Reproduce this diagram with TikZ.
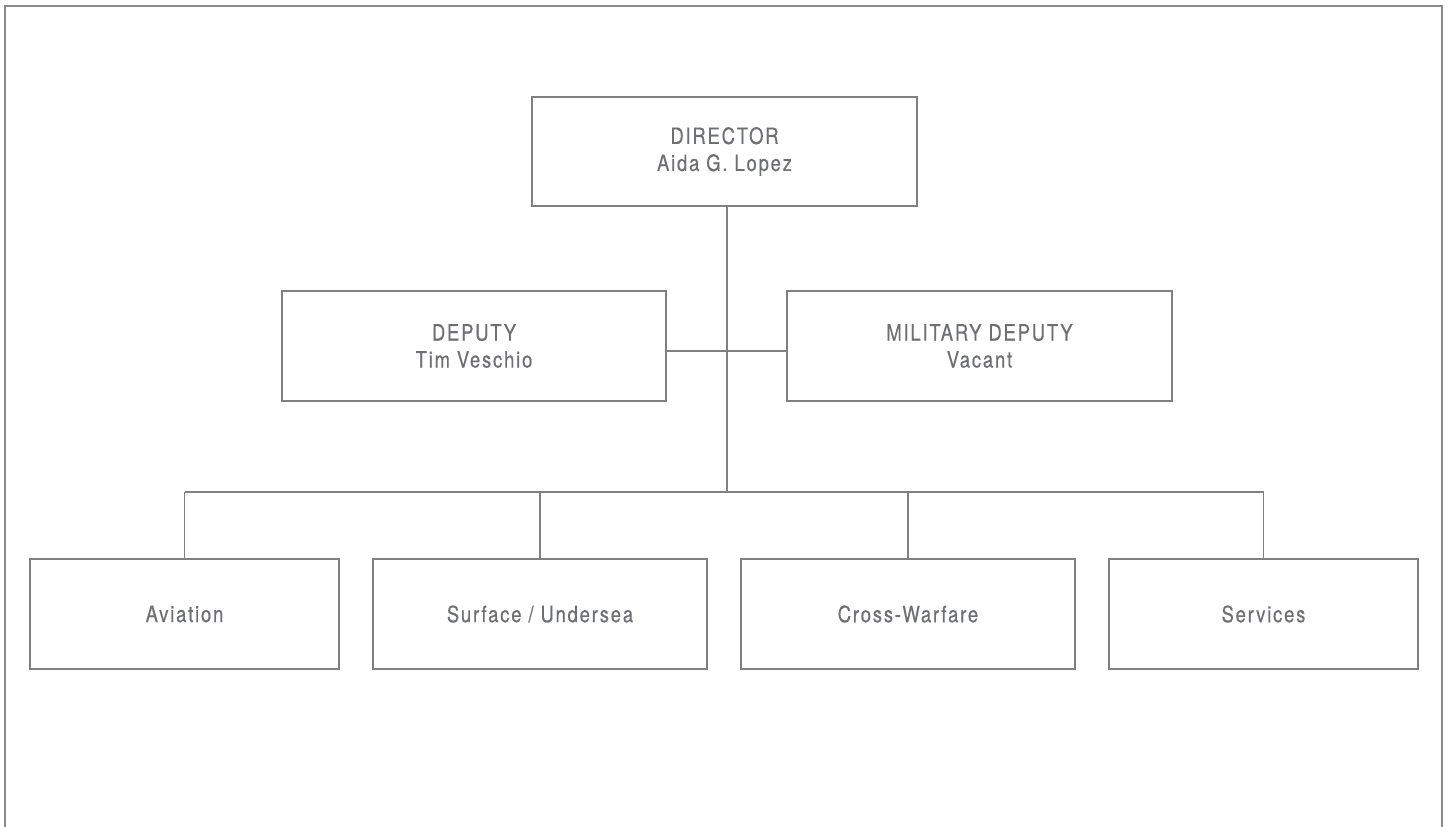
\documentclass[tikz,border=0pt]{standalone}
\usepackage{fontspec}
\setmainfont{TeX Gyre Heros}[FakeStretch=0.82, LetterSpace=8, FakeBold=0.4]
\definecolor{txtgray}{HTML}{6E6F73}
\definecolor{linegray}{HTML}{808080}
\definecolor{framegray}{HTML}{8A8A8A}
\begin{document}
\begin{tikzpicture}[x=1pt, y=-1pt,
  orgbox/.style={draw=linegray, line width=1.3pt, fill=white, rectangle,
    minimum height=110pt, inner sep=0pt, text=txtgray,
    font=\fontsize{22.5}{27}\selectfont, align=center},
  link/.style={draw=linegray, line width=1.3pt},
  frameline/.style={draw=framegray, line width=2pt}]
\useasboundingbox (0,0) rectangle (1449,827);
\draw[frameline] (4.5,827) -- (4.5,5.5) -- (1442,5.5) -- (1442,827);

\node[orgbox, minimum width=385pt, minimum height=109pt] (dir) at (724.5,151.5) {DIRECTOR\\Aida G. Lopez};
\node[orgbox, minimum width=384pt] (dep) at (474,346) {DEPUTY\\Tim Veschio};
\node[orgbox, minimum width=385pt] (mil) at (979.5,346) {MILITARY DEPUTY\\Vacant};

\node[orgbox, minimum width=309pt] (av) at (184.5,614) {Aviation};
\node[orgbox, minimum width=334pt] (su) at (540,614) {Surface / Undersea};
\node[orgbox, minimum width=334pt] (cw) at (908,614) {Cross-Warfare};
\node[orgbox, minimum width=309pt] (se) at (1263.5,614) {Services};

\coordinate (bus) at (727,492);
\coordinate (dl) at (727,351);

\draw[link] (dir.south -| bus) -- (bus);
\draw[link] (dep.east |- dl) -- (mil.west |- dl);
\draw[link] (av.north |- bus) -- (se.north |- bus);
\draw[link] (av.north |- bus) -- (av.north);
\draw[link] (su.north |- bus) -- (su.north);
\draw[link] (cw.north |- bus) -- (cw.north);
\draw[link] (se.north |- bus) -- (se.north);
\end{tikzpicture}
\end{document}
